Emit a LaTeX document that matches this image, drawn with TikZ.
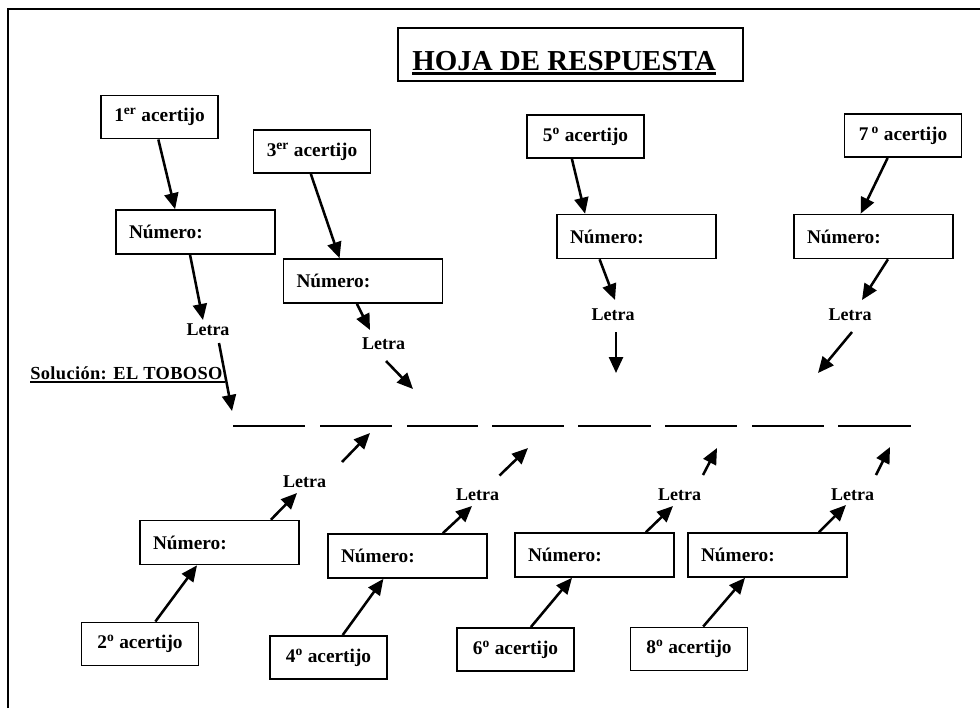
\documentclass[tikz,border=0pt]{standalone}
\usepackage{fontspec}
\setmainfont{Liberation Serif}
\usetikzlibrary{arrows.meta,calc}
\begin{document}
\begin{tikzpicture}[x=0.75pt,y=-0.75pt,
  abox/.style={draw,line width=1.2pt,minimum width=87.5pt,minimum height=32.5pt,inner sep=0pt,
    font=\fontsize{14.5}{16}\selectfont\bfseries},
  nbox/.style={draw,line width=1.2pt,minimum width=119.25pt,minimum height=33pt,inner xsep=9.75pt,
    text width=99.75pt,align=left,font=\fontsize{14.5}{16}\selectfont\bfseries},
  lbl/.style={inner sep=1pt,font=\fontsize{13.5}{15}\selectfont\bfseries},
  arr/.style={line width=1.9pt,-{Triangle[length=12pt,width=10.5pt]}},
  blank/.style={line width=2.2pt}
]
\useasboundingbox (0,0) rectangle (980,708);
\fill[white] (0,0) rectangle (980,708);
% frame
\draw[line width=1.5pt] (8,708) -- (8,9) -- (980,9);

% title
\node[draw,line width=1.2pt,minimum width=258.75pt,minimum height=39.75pt,inner sep=0pt] (tbox) at (570.5,54.5) {};
\node[anchor=base,inner sep=0pt,font=\fontsize{21.7}{24}\selectfont\bfseries] (ttl) at (564,70) {HOJA DE RESPUESTA};
\draw[line width=2.2pt] ([yshift=-2.8pt]ttl.base west) -- ([yshift=-2.8pt]ttl.base east);

% solution
\node[anchor=base west,inner sep=0pt,font=\fontsize{13.8}{15}\selectfont\bfseries\addfontfeature{LetterSpace=2}] (sol) at (30,379) {Solución: EL TOBOSO};
\draw[line width=1.1pt] ([yshift=-2.3pt]sol.base west) -- ([yshift=-2.3pt,xshift=1.5pt]sol.base east);

% acertijo boxes
\node[abox] (a1) at (159.5,117) {1\textsuperscript{er} acertijo};
\node[abox] (a3) at (312,151.5) {3\textsuperscript{er} acertijo};
\node[abox] (a5) at (585.5,136.5) {5\textsuperscript{o} acertijo};
\node[abox] (a7) at (903,135.5) {7\,\textsuperscript{o} acertijo};
\node[abox] (a2) at (140,644) {2\textsuperscript{o} acertijo};
\node[abox] (a4) at (328.5,657.5) {4\textsuperscript{o} acertijo};
\node[abox] (a6) at (515.5,649.5) {6\textsuperscript{o} acertijo};
\node[abox] (a8) at (689,649) {8\textsuperscript{o} acertijo};

% numero boxes
\node[nbox] (n1) at (195.5,232) {Número:};
\node[nbox] (n3) at (363,281) {Número:};
\node[nbox] (n5) at (636.5,236.5) {Número:};
\node[nbox] (n7) at (873.5,236.5) {Número:};
\node[nbox] (n2) at (219.5,542.5) {Número:};
\node[nbox] (n4) at (407.5,556) {Número:};
\node[nbox] (n6) at (594.5,555) {Número:};
\node[nbox] (n8) at (767.5,555) {Número:};

% letra labels
\node[lbl] (L1) at (208,330) {Letra};
\node[lbl] (L3) at (383.5,343.5) {Letra};
\node[lbl] (L5) at (613,314.5) {Letra};
\node[lbl] (L7) at (850,314.5) {Letra};
\node[lbl] (L2) at (304.5,481.5) {Letra};
\node[lbl] (L4) at (477.5,495) {Letra};
\node[lbl] (L6) at (679.5,495) {Letra};
\node[lbl] (L8) at (852.5,495) {Letra};

% blanks
\foreach \i/\xa/\xb in {1/233/305,2/320/392,3/407/478,4/492/564,5/578/651,6/665/737,7/752/824,8/838/911}{
  \coordinate (s\i) at (\xa,426);
  \coordinate (e\i) at (\xb,426);
  \draw[blank] (s\i) -- (e\i);
}
% free ends of letter arrows
\coordinate (t1) at (232,411);
\coordinate (t3) at (413,389);
\coordinate (t5) at (616,373);
\coordinate (t7) at (818,373);
\coordinate (t2) at (370,433);
\coordinate (t4) at (528,448);
\coordinate (t6) at (717,448);
\coordinate (t8) at (890,447);

% top chains
\draw[arr] ($(a1.south west)!0.49!(a1.south east)$) -- ($(n1.north west)!0.373!(n1.north east)$);
\draw[arr] ($(a3.south west)!0.49!(a3.south east)$) -- ($(n3.north west)!0.354!(n3.north east)$);
\draw[arr] ($(a5.south west)!0.385!(a5.south east)$) -- ($(n5.north west)!0.18!(n5.north east)$);
\draw[arr] ($(a7.south west)!0.37!(a7.south east)$) -- ($(n7.north west)!0.42!(n7.north east)$);

\draw[arr] ($(n1.south west)!0.466!(n1.south east)$) -- ($(L1.center)+(-5,-10)$);
\draw[arr] ($(n3.south west)!0.462!(n3.south east)$) -- ($(L3.center)+(-13.5,-13.5)$);
\draw[arr] ($(n5.south west)!0.27!(n5.south east)$) -- ($(L5.center)+(2,-14.5)$);
\draw[arr] ($(n7.south west)!0.59!(n7.south east)$) -- ($(L7.center)+(12,-14.5)$);

\draw[arr] ($(L1.center)+(11,13)$) -- (t1);
\draw[arr] ($(L3.center)+(2.5,17.5)$) -- (t3);
\draw[arr] ($(L5.center)+(3,17.5)$) -- (t5);
\draw[arr] ($(L7.center)+(2,17.5)$) -- (t7);

% bottom chains
\draw[arr] ($(a2.north west)!0.63!(a2.north east)$) -- ($(n2.south west)!0.36!(n2.south east)$);
\draw[arr] ($(a4.north west)!0.62!(a4.north east)$) -- ($(n4.south west)!0.35!(n4.south east)$);
\draw[arr] ($(a6.north west)!0.63!(a6.north east)$) -- ($(n6.south west)!0.36!(n6.south east)$);
\draw[arr] ($(a8.north west)!0.62!(a8.north east)$) -- ($(n8.south west)!0.36!(n8.south east)$);

\draw[arr] ($(n2.north west)!0.82!(n2.north east)$) -- ($(L2.center)+(-7.5,11.5)$);
\draw[arr] ($(n4.north west)!0.72!(n4.north east)$) -- ($(L4.center)+(-5.5,11)$);
\draw[arr] ($(n6.north west)!0.82!(n6.north east)$) -- ($(L6.center)+(-6.5,11)$);
\draw[arr] ($(n8.north west)!0.82!(n8.north east)$) -- ($(L8.center)+(-6.5,10)$);

\draw[arr] ($(L2.center)+(37.5,-19.5)$) -- (t2);
\draw[arr] ($(L4.center)+(22,-19.5)$) -- (t4);
\draw[arr] ($(L6.center)+(23.5,-20)$) -- (t6);
\draw[arr] ($(L8.center)+(23.5,-20)$) -- (t8);
\end{tikzpicture}
\end{document}
